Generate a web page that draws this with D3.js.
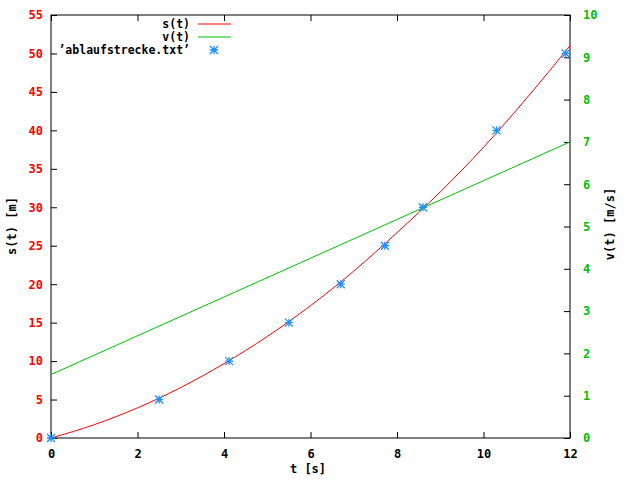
<!DOCTYPE html>
<html>
<head>
<meta charset="utf-8">
<script src="https://cdn.jsdelivr.net/npm/d3@7"></script>
<style>
  body { margin: 0; background: #fff; }
  text { font-family: "DejaVu Sans Mono", monospace; font-weight: bold; font-size: 12px; }
</style>
</head>
<body>
<div class="canvas"></div>
<script>
// measured points from ablaufstrecke.txt
const dataT = [0, 2.5, 4.12, 5.5, 6.7, 7.72, 8.6, 10.3, 11.9]
const dataS = [0, 5, 10, 15, 20, 25, 30, 40, 50]

// s(t) curve
const curveT = [0, 1, 2, 3, 4, 5, 6, 7, 8, 9, 10, 11, 12]
const curveS = [0, 1.73, 3.92, 6.56, 9.67, 13.2, 17.2, 21.7, 26.7, 32.0, 37.8, 44.2, 51.0]

// v(t) line
const velT = [0, 6, 12]
const velV = [1.5, 4.25, 7.0]

const xTicks = [0, 2, 4, 6, 8, 10, 12]
const yTicks = [0, 5, 10, 15, 20, 25, 30, 35, 40, 45, 50, 55]
const y2Ticks = [0, 1, 2, 3, 4, 5, 6, 7, 8, 9, 10]

const dims = {width: 640, height: 480}
const box = {left: 51, right: 570, top: 15, bottom: 438}

const red = '#ff0000', green = '#00c000', blue = '#1e90ff'

const svg = d3.select('.canvas').append('svg')
    .attr('width', dims.width)
    .attr('height', dims.height)

const x = d3.scaleLinear().domain([0, 12]).range([box.left, box.right])
const y = d3.scaleLinear().domain([0, 55]).range([box.bottom, box.top])
const y2 = d3.scaleLinear().domain([0, 10]).range([box.bottom, box.top])

// axes, ticks point inward
svg.append('g')
    .attr('transform', `translate(0, ${box.bottom})`)
    .call(d3.axisBottom(x).tickValues(xTicks).tickSize(-6).tickPadding(11).tickFormat(d3.format('d')))
    .call(g => g.selectAll('text').attr('fill', 'black'))
svg.append('g')
    .attr('transform', `translate(0, ${box.top})`)
    .call(d3.axisTop(x).tickValues(xTicks).tickSize(-6).tickFormat(''))
svg.append('g')
    .attr('transform', `translate(${box.left}, 0)`)
    .call(d3.axisLeft(y).tickValues(yTicks).tickSize(-6).tickPadding(8))
    .call(g => g.selectAll('text').attr('fill', red))
svg.append('g')
    .attr('transform', `translate(${box.right}, 0)`)
    .call(d3.axisRight(y2).tickValues(y2Ticks).tickSize(-6).tickPadding(13))
    .call(g => g.selectAll('text').attr('fill', green))

svg.selectAll('.domain').remove()
svg.selectAll('.tick line').attr('stroke', 'black')
svg.selectAll('.tick text').style('font-size', '12px')

svg.append('rect')
    .attr('x', box.left).attr('y', box.top)
    .attr('width', box.right - box.left).attr('height', box.bottom - box.top)
    .attr('fill', 'none').attr('stroke', 'black').attr('stroke-width', 1)

// curves
const sLine = d3.line().x(d => x(d[0])).y(d => y(d[1])).curve(d3.curveMonotoneX)
svg.append('path')
    .datum(d3.zip(curveT, curveS))
    .attr('d', sLine)
    .attr('fill', 'none').attr('stroke', red).attr('stroke-width', 1)

const vLine = d3.line().x(d => x(d[0])).y(d => y2(d[1]))
svg.append('path')
    .datum(d3.zip(velT, velV))
    .attr('d', vLine)
    .attr('fill', 'none').attr('stroke', green).attr('stroke-width', 1)

// star marker
const star = (g, cx, cy) => {
    const r = 4
    const p = `M${cx - r},${cy}L${cx + r},${cy}M${cx},${cy - r}L${cx},${cy + r}` +
              `M${cx - r},${cy - r}L${cx + r},${cy + r}M${cx - r},${cy + r}L${cx + r},${cy - r}`
    g.append('path').attr('d', p).attr('stroke', blue).attr('stroke-width', 1.3).attr('fill', 'none')
}
const pts = svg.append('g')
d3.zip(dataT, dataS).forEach(d => star(pts, x(d[0]), y(d[1])))

// legend
const legend = svg.append('g')
const items = [
    {label: 's(t)', color: red, type: 'line', yy: 24},
    {label: 'v(t)', color: green, type: 'line', yy: 37},
    {label: '\u2019ablaufstrecke.txt\u2019', color: blue, type: 'star', yy: 50}
]
items.forEach(it => {
    legend.append('text')
        .attr('x', 190).attr('y', it.yy)
        .attr('dy', '0.35em')
        .attr('text-anchor', 'end')
        .attr('fill', 'black')
        .style('font-size', '11.5px')
        .text(it.label)
    if (it.type === 'line') {
        legend.append('line')
            .attr('x1', 198).attr('x2', 231)
            .attr('y1', it.yy).attr('y2', it.yy)
            .attr('stroke', it.color)
    } else {
        star(legend, 214, it.yy)
    }
})

// axis titles
svg.append('text')
    .attr('x', 308).attr('y', 469).attr('dy', '0.35em')
    .attr('text-anchor', 'middle')
    .text('t [s]')
svg.append('text')
    .attr('transform', 'translate(12, 226) rotate(-90)')
    .attr('dy', '0.35em')
    .attr('text-anchor', 'middle')
    .text('s(t) [m]')
svg.append('text')
    .attr('transform', 'translate(610, 224) rotate(-90)')
    .attr('dy', '0.35em')
    .attr('text-anchor', 'middle')
    .text('v(t) [m/s]')
</script>
</body>
</html>
